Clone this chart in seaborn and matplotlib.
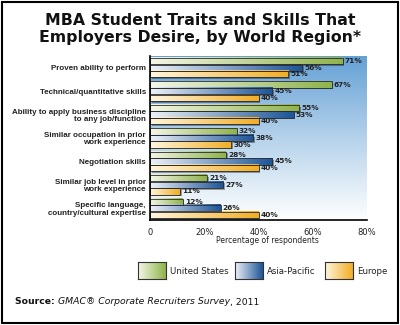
import numpy as np
import pandas as pd
import matplotlib
matplotlib.use("Agg")
import matplotlib.pyplot as plt
import seaborn as sns
from matplotlib.colors import LinearSegmentedColormap
from matplotlib.patches import Rectangle
import matplotlib.patheffects as pe

categories = [
    "Proven ability to perform",
    "Technical/quantitative skills",
    "Ability to apply business discipline\nto any job/function",
    "Similar occupation in prior\nwork experience",
    "Negotiation skills",
    "Similar job level in prior\nwork experience",
    "Specific language,\ncountry/cultural expertise",
]
regions = ["United States", "Asia-Pacific", "Europe"]
us_vals = [71, 67, 55, 32, 28, 21, 12]
ap_vals = [56, 45, 53, 38, 45, 27, 26]
eu_vals = [51, 40, 40, 30, 40, 11, 40]
x_ticks = [0, 20, 40, 60, 80]
x_ticklabels = ["0", "20%", "40%", "60%", "80%"]

title = "MBA Student Traits and Skills That\nEmployers Desire, by World Region*"
xlabel = "Percentage of respondents"

df = pd.DataFrame({
    "category": categories * 3,
    "region": [r for r in regions for _ in categories],
    "value": us_vals + ap_vals + eu_vals,
})

grad_colors = {
    "United States": ("#f4f7e6", "#8fb34c"),
    "Asia-Pacific": ("#eef2f9", "#1d5597"),
    "Europe": ("#fff6de", "#f2ae25"),
}
edge_col = "#2b2b2b"

sns.set_style("white")
plt.rcParams["font.family"] = ["DejaVu Sans"]

W, H = 400, 325
fig = plt.figure(figsize=(W / 100, H / 100), dpi=100)
ax = fig.add_axes([150 / W, 1 - 220 / H, (367 - 150) / W, (220 - 56) / H])

sns.barplot(data=df, y="category", x="value", hue="region", hue_order=regions,
            order=categories, orient="h", width=0.84, gap=0.04,
            palette=[grad_colors[r][1] for r in regions], legend=False, ax=ax,
            saturation=1)

ylim = (len(categories) - 0.5, -0.5)

# background gradient
bg = LinearSegmentedColormap.from_list("bg", ["#65a1d5", "#b5d2eb", "#ffffff"])
ax.imshow(np.linspace(0, 1, 256).reshape(-1, 1), cmap=bg, aspect="auto",
          extent=(0, 80, ylim[0], ylim[1]), origin="upper", zorder=0,
          interpolation="bilinear")

grad = np.linspace(0, 1, 128).reshape(1, -1)
for region, cont in zip(regions, ax.containers):
    cmap = LinearSegmentedColormap.from_list(region, list(grad_colors[region]))
    for p in cont.patches:
        x0, y0, w, h = p.get_x(), p.get_y(), p.get_width(), p.get_height()
        p.set_zorder(2)
        p.set_edgecolor("none")
        p.set_path_effects([pe.SimplePatchShadow(offset=(1.2, -1.2), shadow_rgbFace="black", alpha=0.35), pe.Normal()])
        ax.imshow(grad, cmap=cmap, aspect="auto", extent=(x0, x0 + w, y0 + h, y0),
                  zorder=3, interpolation="bilinear")
        ax.add_patch(Rectangle((x0, y0), w, h, facecolor="none", edgecolor=edge_col,
                               linewidth=0.6, zorder=4))
    vals = [int(round(v)) for v in cont.datavalues]
    ax.bar_label(cont, labels=[f"{v}%" for v in vals], padding=1.5, fontsize=5.3,
                 fontweight="bold", color="#222222", zorder=5)

ax.set_xlim(0, 80)
ax.set_ylim(*ylim)
ax.set_xticks(x_ticks)
ax.set_xticklabels(x_ticklabels, fontsize=6.0, color="#222222")
ax.set_yticks(range(len(categories)))
ax.set_yticklabels(categories, fontsize=5.8, fontweight="bold", color="#222222",
                   linespacing=1.1, family=["Liberation Sans", "DejaVu Sans"])
ax.set_yticks(np.arange(-0.5, len(categories) + 0.5, 1), minor=True)
ax.tick_params(axis="y", which="major", length=0, pad=3)
ax.tick_params(axis="y", which="minor", length=4, width=1, color="black", direction="out")
ax.tick_params(axis="x", which="major", length=4, width=1, color="black", direction="out", pad=2)
ax.set_xlabel(xlabel, fontsize=5.5, color="#222222")
ax.xaxis.set_label_coords((267 - 150) / (367 - 150), -0.10)
ax.set_ylabel("")
for s in ["top", "right"]:
    ax.spines[s].set_visible(False)
for s in ["left", "bottom"]:
    ax.spines[s].set_color("black")
    ax.spines[s].set_linewidth(1.2)
ax.spines["bottom"].set_zorder(6)
ax.spines["left"].set_zorder(6)

# title
fig.text(0.5, 1 - 29 / H, title, ha="center", va="center", fontsize=11.3,
         fontweight="bold", color="#111111", linespacing=1.2)

# legend
leg_x = [138, 235, 325]
lab_x = [170, 267, 357]
for region, lx, tx in zip(regions, leg_x, lab_x):
    lax = fig.add_axes([lx / W, 1 - 279 / H, 28 / W, 17 / H])
    cmap = LinearSegmentedColormap.from_list(region + "_l", list(grad_colors[region]))
    lax.imshow(grad, cmap=cmap, aspect="auto", interpolation="bilinear")
    lax.set_xticks([])
    lax.set_yticks([])
    for s in lax.spines.values():
        s.set_color("#333333")
        s.set_linewidth(0.8)
    fig.text(tx / W, 1 - 271 / H, region, ha="left", va="center", fontsize=6.2,
             color="#222222")

# source line
fig.canvas.draw()
r = fig.canvas.get_renderer()
t1 = fig.text(15 / W, 1 - 302 / H, "Source: ", fontsize=6.7, fontweight="bold",
              color="#111111", va="center")
bb = t1.get_window_extent(r)
t2 = fig.text(bb.x1 / W, 1 - 302 / H, "GMAC\u00ae Corporate Recruiters Survey",
              fontsize=6.7, style="italic", color="#111111", va="center")
bb2 = t2.get_window_extent(r)
fig.text(bb2.x1 / W, 1 - 302 / H, ", 2011", fontsize=6.7, color="#111111", va="center")

# border
fig.add_artist(Rectangle((1.5 / W, 2.5 / H), 396 / W, 321 / H, transform=fig.transFigure,
                         facecolor="none", edgecolor="black", linewidth=1.5))

fig.savefig("out.png", dpi=100)
